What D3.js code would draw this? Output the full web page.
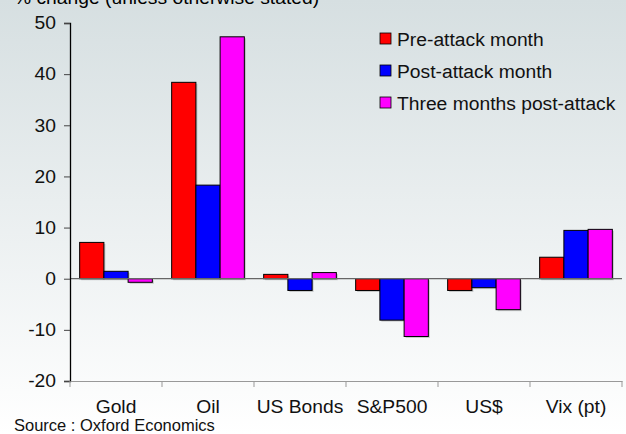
<!DOCTYPE html>
<html><head><meta charset="utf-8">
<script src="https://cdn.jsdelivr.net/npm/d3@7"></script>
<style>body{margin:0;}svg{display:block;font-family:"Liberation Sans",Arial,sans-serif;}</style>
</head><body>
<svg id="chart" width="626" height="434"></svg>
<script>
const categories = ["Gold","Oil","US Bonds","S&P500","US$","Vix (pt)"];
const seriesNames = ["Pre-attack month","Post-attack month","Three months post-attack"];
const preAttack = [7.1, 38.4, 0.85, -2.3, -2.3, 4.2];
const postAttack = [1.45, 18.3, -2.3, -8.1, -1.75, 9.45];
const threeMonths = [-0.7, 47.3, 1.2, -11.3, -6.05, 9.65];
const yTicks = [-20,-10,0,10,20,30,40,50];
const colors = ["#ff0000","#0000ff","#ff00ff"];

(function(){
const svg = d3.select("#chart");
const W = 626, H = 434;
const FS = 18;
const defs = svg.append("defs");
const grad = defs.append("linearGradient").attr("id","bg").attr("x1",0).attr("y1",0).attr("x2",0).attr("y2",1);
grad.append("stop").attr("offset","0%").attr("stop-color","#d6dfe1");
grad.append("stop").attr("offset","100%").attr("stop-color","#ffffff");
svg.append("rect").attr("width",W).attr("height",H).attr("fill","url(#bg)");

const mLeft = 70, mRight = 622, mTop = 23, mBottom = 381;
const x = d3.scaleBand().domain(categories).range([mLeft,mRight]).paddingInner(0.21).paddingOuter(0.105);
const series = [preAttack, postAttack, threeMonths];
const xs = d3.scaleBand().domain(d3.range(3)).range([0,x.bandwidth()]);
const y = d3.scaleLinear().domain([-20,50]).range([mBottom,mTop]);

svg.append("text").attr("class","st").attr("x",14).attr("y",4).attr("font-size",FS).attr("fill","#000").text("% change (unless otherwise stated)");

series.forEach((vals,si)=>{
  const g = svg.append("g");
  g.selectAll("rect.sh").data(vals).join("rect").attr("class","sh")
    .attr("x",(d,i)=>x(categories[i])+xs(si)+1.5)
    .attr("y",d=>Math.min(y(d),y(0))+1.5)
    .attr("width",xs.bandwidth())
    .attr("height",d=>Math.abs(y(d)-y(0)))
    .attr("fill","#000").attr("opacity",0.18);
  g.selectAll("rect.b").data(vals).join("rect").attr("class","b")
    .attr("x",(d,i)=>x(categories[i])+xs(si))
    .attr("y",d=>Math.min(y(d),y(0)))
    .attr("width",xs.bandwidth())
    .attr("height",d=>Math.abs(y(d)-y(0)))
    .attr("fill",colors[si]).attr("stroke","#000").attr("stroke-width",1);
});

svg.append("line").attr("x1",mLeft).attr("x2",mRight).attr("y1",y(0)).attr("y2",y(0)).attr("stroke","#666").attr("stroke-width",1.2);

const yAxis = d3.axisLeft(y).tickValues(yTicks).tickFormat(d=>String(d)).tickSize(6).tickPadding(8);
const ya = svg.append("g").attr("transform",`translate(${mLeft},0)`).call(yAxis);
ya.select(".domain").attr("stroke","#000").attr("stroke-width",1.3);
ya.selectAll(".tick line").attr("stroke","#444");
ya.selectAll("text").attr("class","st").attr("font-size",FS).attr("fill","#111").attr("font-family","Liberation Sans, Arial, sans-serif");

const xAxis = d3.axisBottom(x).tickSize(0).tickPadding(19);
const xa = svg.append("g").attr("transform",`translate(0,${mBottom})`).call(xAxis);
xa.select(".domain").attr("stroke","#999").attr("stroke-width",1.2);
xa.selectAll("text").attr("class","st").attr("font-size",FS).attr("fill","#111").attr("font-family","Liberation Sans, Arial, sans-serif");
const bounds = categories.map(c=>x(c)-x.step()*x.paddingInner()/2).concat([mRight]);
svg.append("g").selectAll("line").data(bounds).join("line")
  .attr("x1",d=>d).attr("x2",d=>d).attr("y1",mBottom).attr("y2",mBottom+6).attr("stroke","#999");

const lg = svg.append("g");
seriesNames.forEach((n,i)=>{
  const yy = 39 + i*32;
  lg.append("rect").attr("x",380).attr("y",yy-6).attr("width",11).attr("height",11)
    .attr("fill",colors[i]).attr("stroke","#000").attr("stroke-width",0.8);
  lg.append("text").attr("class","st").attr("x",397).attr("y",yy+7).attr("font-size",FS).attr("fill","#111").text(n);
});

svg.append("text").attr("x",14).attr("y",431).attr("font-size",16.5).attr("fill","#111").text("Source : Oxford Economics");

// horizontal stretch of text to match reference proportions
svg.selectAll("text.st").each(function(){
  const w = this.getComputedTextLength();
  d3.select(this).attr("textLength", w*1.07).attr("lengthAdjust","spacingAndGlyphs");
});
})();
</script>
</body></html>
